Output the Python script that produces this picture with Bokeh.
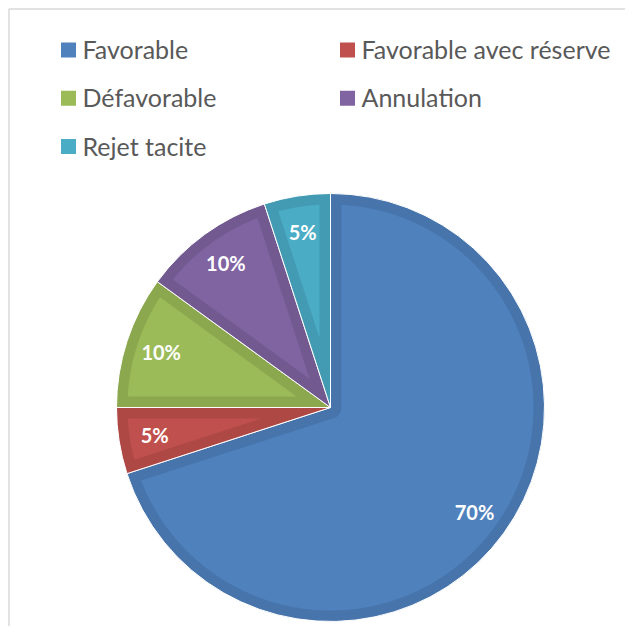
import numpy as np
from bokeh.plotting import figure
from bokeh.models import Range1d, ColumnDataSource
from bokeh.core.properties import value
from bokeh.embed import file_html
from bokeh.resources import INLINE

# ---- data ----
categories = ["Favorable", "Favorable avec réserve", "Défavorable", "Annulation", "Rejet tacite"]
values = [70, 5, 10, 10, 5]

# ---- styles ----
fill_colors = ["#4F81BD", "#C0504D", "#9BBB59", "#8064A2", "#4BACC6"]
band_colors = ["#4674AB", "#AD4845", "#8BA84F", "#725A91", "#439BB3"]
FONT = "Lato"

W, H = 625, 626
p = figure(width=W, height=H, output_backend="svg", toolbar_location=None,
           x_range=Range1d(0, W), y_range=Range1d(0, H), min_border=0,
           x_axis_type=None, y_axis_type=None)
p.grid.visible = False
p.outline_line_color = None
p.background_fill_color = "white"
p.border_fill_color = "white"

# chart frame (top and left edges visible)
m = 8.5
p.line(x=[m, m, W], y=[0, H - m, H - m], line_color="#D9D9D9", line_width=1.5)

# ---- pie ----
cx, cy, R, band = 330, 219, 214, 11
vals = np.array(values, dtype=float)
fr = vals / vals.sum()
end_cum = np.cumsum(fr)
start_cum = end_cum - fr
hi = np.pi / 2 - 2 * np.pi * start_cum
lo = np.pi / 2 - 2 * np.pi * end_cum

src = ColumnDataSource(dict(lo=lo, hi=hi, band=band_colors, fill=fill_colors))
p.wedge(x=cx, y=cy, radius=R, start_angle="lo", end_angle="hi", direction="anticlock",
        fill_color="band", line_color="white", line_width=1, source=src)


def inset(a0, a1):
    rp = R - band
    dl = np.arcsin(band / rp)
    arc = np.linspace(a0 + dl, a1 - dl, 240)
    xs = list(rp * np.cos(arc))
    ys = list(rp * np.sin(arc))
    th = a1 - a0
    if th < np.pi:
        mm = (a0 + a1) / 2
        dist = band / np.sin(th / 2)
        xs.append(dist * np.cos(mm))
        ys.append(dist * np.sin(mm))
    else:
        a = np.linspace(a1 - np.pi / 2, a0 + np.pi / 2, 60)
        xs += list(band * np.cos(a))
        ys += list(band * np.sin(a))
    return list(cx + np.array(xs)), list(cy + np.array(ys))


pxs, pys = [], []
for a0, a1 in zip(lo, hi):
    xx, yy = inset(a0, a1)
    pxs.append(xx)
    pys.append(yy)
p.patches(xs=pxs, ys=pys, fill_color=fill_colors, line_color=None)

# data labels
mid = (lo + hi) / 2
ldist = 178
lab = ColumnDataSource(dict(x=cx + ldist * np.cos(mid), y=cy + ldist * np.sin(mid),
                            t=[f"{v}%" for v in values]))
p.text(x="x", y="y", text="t", source=lab, text_color="white", text_font=value(FONT),
       text_font_style="bold", text_font_size="20px", text_align="center",
       text_baseline="middle")

# ---- legend (2 columns, row-major) ----
col_step, row_step = 279, 48.3
sq_x0, sq_y0 = 68, 576.5
idx = np.arange(len(categories))
lx = sq_x0 + col_step * (idx % 2)
ly = sq_y0 - row_step * (idx // 2)
lsrc = ColumnDataSource(dict(x=lx, y=ly, tx=lx + 14, ty=ly + 1, name=categories, c=fill_colors))
p.rect(x="x", y="y", width=15, height=15, fill_color="c", line_color=None, source=lsrc)
p.text(x="tx", y="ty", text="name", source=lsrc, text_color="#595959", text_font=value(FONT),
       text_font_size="25px", text_align="left", text_baseline="middle")

open("out.html", "w").write(file_html(p, INLINE))
